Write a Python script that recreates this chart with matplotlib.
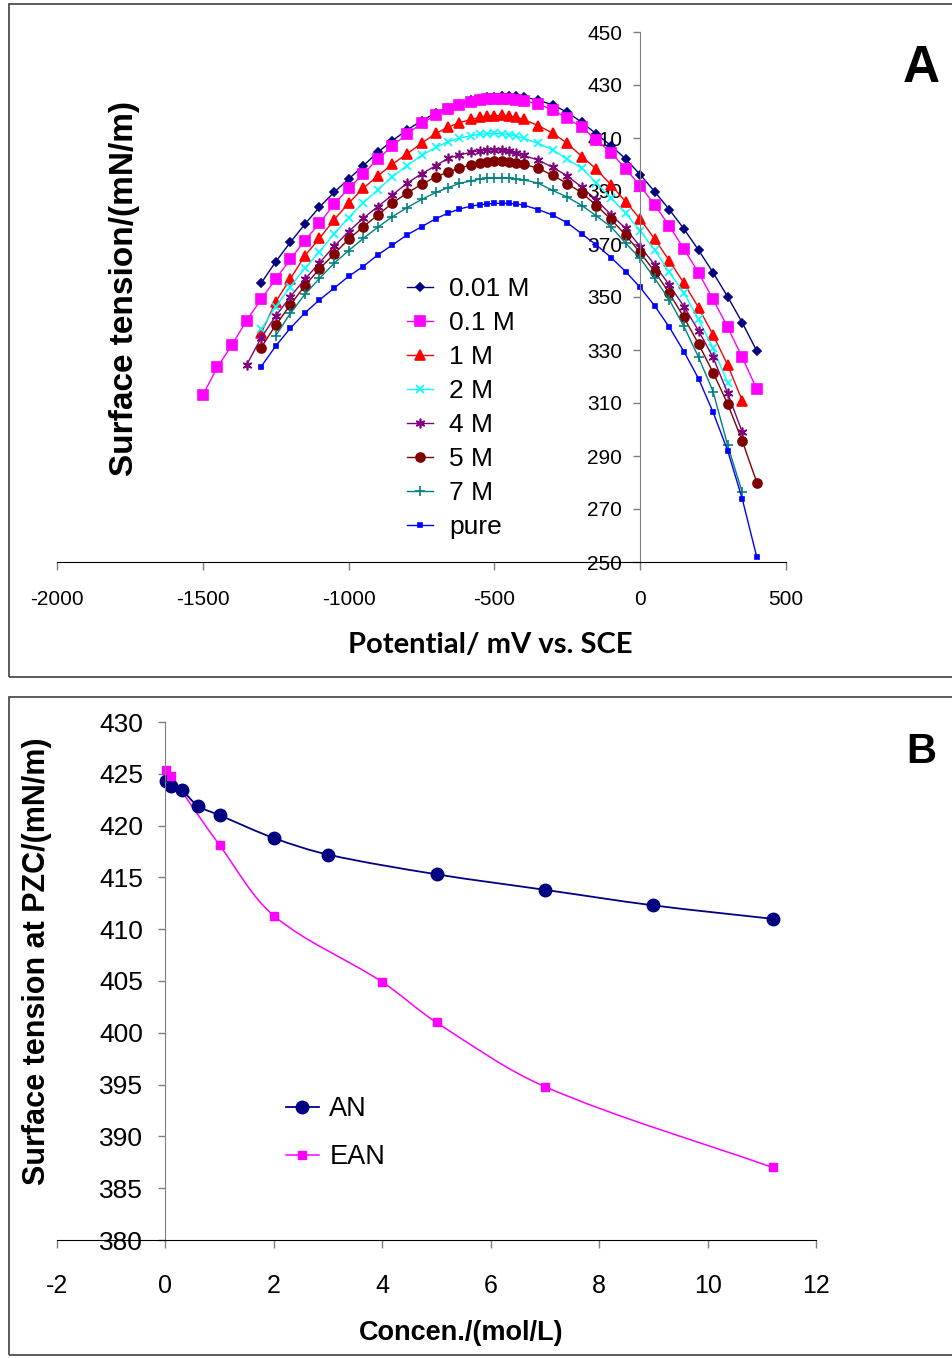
import matplotlib
matplotlib.use('Agg')
import matplotlib.pyplot as plt
from matplotlib.path import Path
from matplotlib.patches import PathPatch, Rectangle

plt.rcParams['font.family'] = ['Liberation Sans', 'DejaVu Sans']
plt.rcParams['axes.unicode_minus'] = False

W, H = 952, 1358

# ---- panel A: electrocapillary curves ----
potential = [-1500, -1450, -1400, -1350, -1300, -1250, -1200, -1150, -1100, -1050,
             -1000, -950, -900, -850, -800, -750, -700, -660, -620, -580,
             -550, -525, -500, -475, -450, -425, -400, -350, -300, -250,
             -200, -150, -100, -50, 0, 50, 100, 150, 200, 250,
             300, 350, 400]

labels_a = ['0.01 M', '0.1 M', '1 M', '2 M', '4 M', '5 M', '7 M', 'pure']
start_a = [-1300, -1500, -1300, -1300, -1350, -1300, -1250, -1300]

st_001 = [355.2, 363.3, 370.6, 377.5, 383.9, 389.5, 394.5, 399.5, 404.6, 409.0, 413.0, 416.5, 419.5,
          421.5, 423.0, 424.2, 424.9, 425.3, 425.6, 425.8, 425.8, 425.7, 425.5,
          424.3, 422.5, 419.7, 415.9, 411.5, 407.1, 402.1, 396.2, 389.7, 383.0, 375.7, 367.7, 359.2, 350.1, 340.3, 329.6]
st_01 = [313.0, 323.5, 331.9, 341.1, 349.1, 356.8, 364.2, 371.3, 377.8, 385.0, 391.0, 396.4, 402.1, 407.0, 411.5, 415.5, 418.7,
         420.8, 422.4, 423.6, 424.2, 424.6, 424.8, 424.9, 424.8, 424.5, 424.1,
         422.8, 420.6, 417.4, 414.0, 409.2, 404.5, 398.4, 391.9, 384.7, 376.8, 368.1, 359.2, 349.1, 338.6, 327.2, 315.2]
st_1 = [336.3, 348.2, 356.8, 365.6, 372.1, 379.1, 385.4, 391.0, 395.7, 400.1, 404.0, 408.0, 411.8,
        414.0, 415.8, 417.0, 417.8, 418.2, 418.4, 418.5, 418.3, 417.8, 417.0,
        414.7, 411.8, 408.0, 403.0, 398.2, 392.3, 386.0, 379.4, 371.8, 363.7, 355.2, 346.0, 335.7, 324.3, 310.9]
st_2 = [337.8, 346.4, 353.9, 360.8, 367.1, 373.8, 380.0, 385.6, 390.4, 395.4, 399.6, 403.4, 406.5,
        408.6, 409.9, 410.9, 411.4, 411.6, 411.7, 411.6, 411.3, 410.8, 409.9,
        408.0, 405.5, 402.0, 398.6, 393.0, 387.3, 381.6, 375.0, 367.7, 359.3, 351.6, 341.6, 330.6, 317.7]
st_4 = [324.3, 334.6, 342.8, 350.1, 356.7, 362.9, 369.1, 374.7, 379.7, 384.1, 388.5, 392.9, 396.5, 399.6,
        402.3, 403.6, 404.6, 405.2, 405.5, 405.5, 405.4, 405.0, 404.3, 403.4,
        401.7, 398.9, 395.7, 391.4, 386.6, 381.0, 375.9, 369.0, 362.1, 354.5, 346.4, 337.3, 327.2, 313.7, 299.0]
st_5 = [330.9, 339.4, 347.0, 354.3, 360.6, 366.2, 371.8, 376.5, 380.9, 385.4, 389.2, 392.5, 395.4,
        397.1, 398.6, 399.9, 400.7, 401.1, 401.2, 401.2, 400.9, 400.5, 400.1,
        398.6, 395.9, 392.8, 389.3, 384.5, 379.3, 373.4, 366.7, 359.6, 351.4, 342.3, 332.3, 321.5, 309.6, 295.7, 280.0]
st_7 = [335.4, 343.8, 351.0, 357.0, 362.7, 367.5, 372.1, 376.3, 380.3, 383.7, 386.8, 389.5,
        391.2, 392.9, 393.8, 394.5, 394.8, 394.9, 394.9, 394.8, 394.5, 394.2,
        393.0, 390.2, 387.7, 384.5, 380.6, 376.5, 370.3, 364.6, 357.0, 348.9, 338.9, 327.3, 314.3, 294.0, 276.3]
st_pure = [323.7, 331.5, 338.2, 344.0, 348.9, 353.3, 357.8, 361.5, 365.9, 369.6, 373.4, 376.5, 379.6,
           381.6, 383.2, 384.3, 384.8, 385.1, 385.3, 385.4, 385.3, 385.1, 384.7,
           383.0, 380.9, 378.0, 373.8, 369.6, 364.9, 359.6, 353.6, 346.6, 338.6, 329.4, 319.2, 306.5, 292.0, 273.8, 251.8]

# ---- panel B: tension at PZC vs concentration ----
conc_an = [0.01, 0.1, 0.3, 0.6, 1, 2, 3, 5, 7, 9, 11.2]
st_an = [424.3, 423.8, 423.4, 421.9, 421.0, 418.8, 417.2, 415.3, 413.8, 412.3, 411.0]
conc_ean = [0.01, 0.1, 1, 2, 4, 5, 7, 11.2]
st_ean = [425.4, 424.8, 418.1, 411.3, 404.9, 401.0, 394.8, 387.0]


def fx(px):
    return px / W


def fy(py):
    return 1 - py / H


def smooth_line(ax, x, y, color, lw):
    # bezier through the points, tangents scaled by screen chord length
    pts = ax.transData.transform(list(zip(x, y)))
    n = len(x)
    d = [((pts[i + 1][0] - pts[i][0]) ** 2 + (pts[i + 1][1] - pts[i][1]) ** 2) ** 0.5 for i in range(n - 1)]
    tx, ty = [], []
    for i in range(n):
        a = max(i - 1, 0)
        b = min(i + 1, n - 1)
        tx.append(x[b] - x[a])
        ty.append(y[b] - y[a])
    verts = [(x[0], y[0])]
    codes = [Path.MOVETO]
    for i in range(n - 1):
        s0 = d[i] / ((d[i - 1] if i > 0 else 0) + d[i]) / 3
        s1 = d[i] / (d[i] + (d[i + 1] if i + 1 < n - 1 else 0)) / 3
        verts.append((x[i] + tx[i] * s0, y[i] + ty[i] * s0))
        verts.append((x[i + 1] - tx[i + 1] * s1, y[i + 1] - ty[i + 1] * s1))
        verts.append((x[i + 1], y[i + 1]))
        codes += [Path.CURVE4] * 3
    ax.add_patch(PathPatch(Path(verts, codes), fill=False, edgecolor=color, lw=lw))


def style_axes(ax, xlim, ylim, xfs, yfs, xpad, ypad):
    ax.set_xlim(*xlim)
    ax.set_ylim(*ylim)
    ax.spines['top'].set_visible(False)
    ax.spines['right'].set_visible(False)
    ax.spines['left'].set_position(('data', 0))
    ax.spines['left'].set_color('#7f7f7f')
    ax.spines['bottom'].set_color('black')
    ax.tick_params(axis='x', direction='out', length=6, width=1, color='#7f7f7f', labelsize=xfs, pad=xpad)
    ax.tick_params(axis='y', direction='out', length=5, width=1, color='#7f7f7f', labelsize=yfs, pad=ypad)
    ax.patch.set_alpha(0)


fig = plt.figure(figsize=(W / 100, H / 100), dpi=100)

# panel frames
fig.add_artist(Rectangle((fx(9), fy(677)), fx(960 - 9), (677 - 4) / H, transform=fig.transFigure,
                         fill=False, edgecolor='#3f3f3f', lw=1.2))
fig.add_artist(Rectangle((fx(9), fy(1355)), fx(960 - 9), (1355 - 697) / H, transform=fig.transFigure,
                         fill=False, edgecolor='#3f3f3f', lw=1.2))

# ---- A ----
axa = fig.add_axes([fx(57), fy(562), 729 / W, 530 / H])
style_axes(axa, (-2000, 500), (250, 450), 15, 15, 14, 8)
axa.set_xticks(range(-2000, 501, 500))
axa.set_yticks(range(250, 451, 20))

series_a = [st_001, st_01, st_1, st_2, st_4, st_5, st_7, st_pure]
colors_a = ['#000080', '#ff00ff', '#ff0000', '#00ffff', '#800080', '#800000', '#008080', '#0000ff']
markers_a = ['D', 's', '^', 'x', (6, 2, 0), 'o', '+', 's']
msizes_a = [4.5, 6.5, 6.5, 6, 7, 6.5, 7, 2.5]

for vals, start, lab, c, m, ms in zip(series_a, start_a, labels_a, colors_a, markers_a, msizes_a):
    i0 = potential.index(start)
    xs = potential[i0:i0 + len(vals)]
    axa.plot(xs, vals, color=c, lw=1.0, marker=m, markersize=ms,
             markerfacecolor=c, markeredgecolor=c, markeredgewidth=1.2, label=lab)

axa.legend(loc='upper left', bbox_to_anchor=(fx(407), fy(277)), bbox_transform=fig.transFigure,
           frameon=False, fontsize=19, handlelength=1.0, handletextpad=0.6, labelspacing=0.38,
           borderpad=0, borderaxespad=0, numpoints=1)

fig.text(fx(125), fy(289), 'Surface tension/(mN/m)', rotation=90, ha='center', va='center',
         fontsize=24, fontweight='bold')
fig.text(fx(490), fy(645), 'Potential/ mV vs. SCE', ha='center', va='center',
         fontsize=21, fontweight='bold', family=['Lato', 'DejaVu Sans'])
fig.text(fx(921), fy(69), 'A', ha='center', va='center', fontsize=37, fontweight='bold')

# ---- B ----
axb = fig.add_axes([fx(57), fy(1240), 759 / W, 518 / H])
style_axes(axb, (-2, 12), (380, 430), 18, 19, 18.5, 11)
axb.set_xticks(range(-2, 13, 2))
axb.set_yticks(range(380, 431, 5))

smooth_line(axb, conc_an, st_an, '#000080', 1.3)
smooth_line(axb, conc_ean, st_ean, '#ff00ff', 1.1)
axb.plot(conc_an, st_an, ls='none', marker='o', markersize=9, color='#000080', label='AN')
axb.plot(conc_ean, st_ean, ls='none', marker='s', markersize=6, color='#ff00ff', label='EAN')

hb = [plt.Line2D([], [], color='#000080', lw=1.3, marker='o', markersize=9),
      plt.Line2D([], [], color='#ff00ff', lw=1.1, marker='s', markersize=6)]
axb.legend(hb, ['AN', 'EAN'], loc='upper left', bbox_to_anchor=(fx(286), fy(1096)),
           bbox_transform=fig.transFigure, frameon=False, fontsize=19.5, handlelength=1.2,
           handletextpad=0.4, labelspacing=0.82, borderpad=0, borderaxespad=0, numpoints=1)

fig.text(fx(37), fy(961), 'Surface tension at PZC/(mN/m)', rotation=90, ha='center', va='center',
         fontsize=22, fontweight='bold')
fig.text(fx(461), fy(1333), 'Concen./(mol/L)', ha='center', va='center',
         fontsize=19.5, fontweight='bold')
fig.text(fx(921), fy(752), 'B', ha='center', va='center', fontsize=30, fontweight='bold')

fig.savefig('out.png', dpi=100)
